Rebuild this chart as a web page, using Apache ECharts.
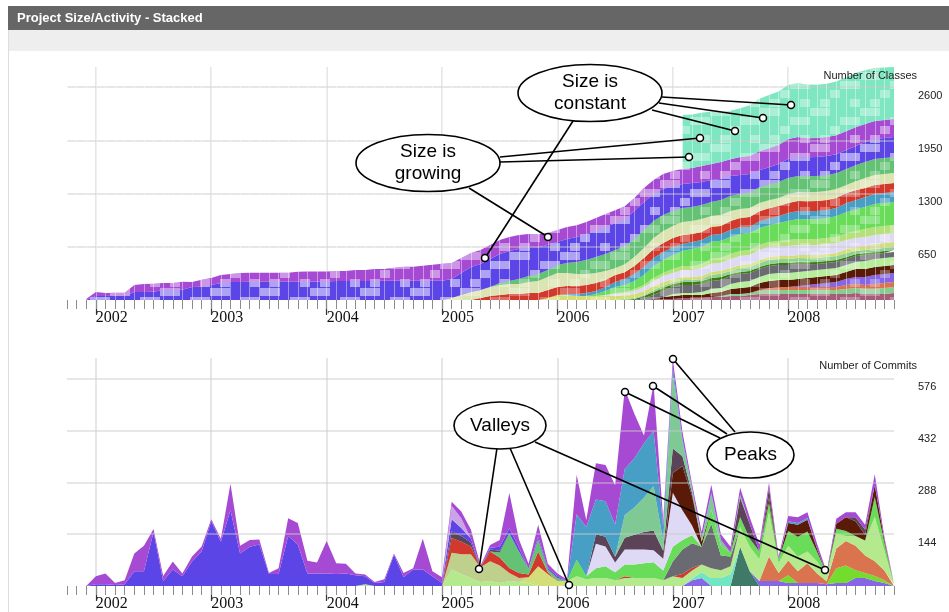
<!DOCTYPE html>
<html>
<head>
<meta charset="utf-8">
<script src="https://cdn.jsdelivr.net/npm/echarts@6/dist/echarts.min.js"></script>
<style>html,body{margin:0;padding:0;background:#fff}#chart{width:949px;height:612px}</style>
</head>
<body>
<div id="chart"></div>
<script>
// ---------- axis categories / tick labels ----------
const yearLabels = ['2002', '2003', '2004', '2005', '2006', '2007', '2008'];
const monthCategories = [];
for (let y = 2001; y <= 2008; y++) {
  for (let mo = 1; mo <= 12; mo++) {
    if (y === 2001 && mo < 10) continue;
    monthCategories.push(y + '-' + String(mo).padStart(2, '0'));
  }
}
const classTicks = [650, 1300, 1950, 2600];
const commitTicks = [144, 288, 432, 576];

// helper: run of zeros for months before a package existed
const z = n => new Array(n).fill(0);

// ---------- Number of Classes (Dec 2001 .. Dec 2008, monthly) ----------
const classesPurple = [12, 49,37,37,37, 85,98,98, 85,85,98, 61,85,85,98,98, 110,110,110,110,110,110, 122,122,122,122,122,122, 134,134, 146,146, 159, 171,171, 183,195,207,
  195,183,171,171,171,171,171,171,159,159, 146,146,146,146,146,159,159,159,159,159,
  171,171,183,183,183,183,195,195,207,207, 220,220,232,232,232,244,244,232,232,232, 232,232,232,220,220,220,220];
const classesBlue = [0, 49,49,52,52, 98,98,100, 122,122,125, 159,161, 183, 207, 220,220,222,222,222,224,224,224,226,226,226, 232,232,232,232,232,234,234,234,234,234,236,236,
  232,268,305,317,342,354,366,366,354,329, 305,281,293,305,317,317,329,329,329,342,
  342,329,317,305,293,293,281,268,256,244, 232,220,207,207,220,232,232,232,232,232, 232,232,232,244,244,244,244];
// packages that appear from Jan 2005 on (values Jan 2005 .. Dec 2008)
const classesCream = [0, 24,61,98,98,110,122,122,122,134,146, 159,171,159,146,134,122,110,85,98,110, 122,134,146,146,159,159,159,134,134,122, 110,110,98,98,98,110,110,110,110,110, 110,98,110,122,122,122,122];
const classesRed = [0,0,0,0, 24,49,61,73,73,85,85, 98,98,98,98,98,98, 85,85,85, 98, 110,110,110,110,110, 98,98,98,98, 110,110, 122,122,122,122,122,122,122,122,122,122,122,122, 110,110,110,110];
const classesGreen = [...z(6), 24,37,61,73,85,85,98,122,146,171, 195,207,220,220,220,220,207,195,183,171, 171,171,171,183,183,183, 195,195,195,195,195,195,195,195,195,195,195,195,195,195,195,195];
const classesYellowGreen = [...z(11), 24,61,61, 49,49,49,49,49,49,49,49,49,49, 37,37,37,37,37,37,37,37,37,37,37,37,37,37,37,37,37,37, 49,49,49, 61,61,61];
const classesTeal = [...z(13), 12,24,37,37,49,61,73,85, 98,98,98,98, 85,85,85,85,85,85,85, 73, 85,85,85, 98,98,98,98,98,98, 110,110, 122,122,122,122];
const classesBrightGreen = [...z(16), 24,49,73,85,98,122,146,159,171,183, 207,207,207,207,207,207,207,207,207, 220, 232, 244,244,244,244, 256,256, 268,268, 281,281,281];
const classesLavender = [...z(17), 12,24,24,37,49,61,73,73,85,85, 98,98,98, 110,110,110, 122,122,122,122,122,122,122,122,122, 110,110,110,110,110,110];
const classesLime = [...z(18), 12,12,24,24,37,37, 49,49,49,49, 61,61,61,61,61,61,61,61, 73,73,73,73,73,73, 85,85, 98,98,98,98];
const classesMedGreen = [...z(19), 12,12,12, 24,24,24,24,24,24, 37,37,37, 49,49,49,49,49,49,49,49,49,49,49,49, 37,37,37,37,37];
const classesDarkGreen = [...z(20), 12, 24, 37,37,37,37,37,37,37,37, 24,24,24,24,24,24,24,24,24,24,24,24,24,24,24,24,24,24];
const classesGray = [...z(21), 24,49,73,85, 98,98,98,98,98,98,98,98,98,98,98,98,98, 85, 73,73,73,73,73,73, 61,61,61];
const classesLightGreen = [...z(24), 24,24,24, 37, 49,49, 61, 73,73,73, 85,85,85,85,85,85,85,85,85,85, 98,98,98,98];
const classesDarkBrown = [...z(22), 12, 24, 37,37,37,37, 49,49, 61, 73,73, 85,85,85,85,85,85,85,85,85,85, 98,98,98,98,98];
const classesViolet = [...z(37), 12,24,37,49,61,73,85,98, 110,110,110];
const classesOrange = [...z(33), 12,24, 37,37,37,37,37,37,37, 49,49,49, 61,61,61];
const classesBottomGreen = [...z(29), 12, 24,24,24, 37, 49,49,49,49,49,49,49,49, 61,61,61,61, 73,73];
const classesMaroon = [...z(23), 12,12, 24,24,24, 37,37, 49,49, 61, 73,73,73,73,73,73,73,73,73,73, 85, 73,73,73, 85];
// large package added in Feb 2007 (values Feb 2007 .. Dec 2008)
const classesMint = [660,655,650,640,610,590,595,620,640,650,655,660,660,655,650,650,655,660,662,655,648,640,635];

// ---------- Number of Commits ----------
// 2002-2004 part (Dec 2001 .. Dec 2004)
const commitsBlueEarly = [0,5,5,3,5,41,41,150,14,46, 27,68,96,180,123,210,90,109,115,33, 33,139,115,35,35,35,33,35,30,22, 8,11,87,25,46,46,27];
const commitsPurpleEarly = [0,22,30,5,11,49,71,8,14,22, 8,14,14,5,8,74,22,19,14,3, 16,49,60,35,30,90,30,27,5,5, 3,8,3,11,3,85,14];
const commitsLightGreenEarly = [0,0,0,0,0,0,0,0,0,0, 0,0,0,0,0,0,0,0,0,0, 0,0,0,0,0,0,0,0,0,5, 0,0,0,0,0,0,0];
// Jan 2005 .. Dec 2008
const commitsBlueLate = [8,33,22,11,0,5,11,14,11,0,8,5,5, ...z(35)];
const commitsPurpleLate = [16, 11,19,25,5,8,19,98,22,14,33, 11,8,5,109,19,101,101,109,221,123, 22,131,16,22,19,11,16,22,16,16, 19,19,19,14,8,14,16,16,14,5, 14,14,14,14,30,8,3];
const commitsLightGreenLate = [0, 46,33,22,11,14,8,14,11,8,0, 0,0,5,27,19,22,22,16,22,22, 22,22,16,27,22,22,22,27,22,22, 55,68,60,123,27,41,41,33,33,16, 41,14,27,41,123,55,5];
const commitsKhaki = [0, 46,55,66,41,55,49,22,11, ...z(39)];
const commitsRed = [0, 41,35,22,0,27,22,14,14,8,41,5, 0,0,0,0,0,0,0, 5, 0,0,0,0,0, 11,8, ...z(21)];
const commitsMauve = [0, 19,16,11,0,5,5, ...z(9), 27,27,16,33,41,49,55,22,68,27,8, 0,0,0,0, 55,41, 0, 27, ...z(8), 11,14, 0,0,0];
const commitsLightPurple = [0, 38, 27, ...z(45)];
const commitsGreen = [...z(6), 14,96,60,16,33,8,8, ...z(35)];
const commitsBrightGreen = [...z(14), 46,8,27,33,22,33,38,41,44,27, 41,27,22,0,41,27,11,27,22,22, 27,11,41,55,55,27,5,14,14,0, 0,55,22,0];
const commitsYellowGreen = [...z(9), 16,55,33,14,8, ...z(34)];
const commitsTeal = [...z(14), 126,137,96,98,90,128,137,150,153,41,19,8,3, 0, 5, ...z(7), 5,5,5, ...z(9)];
const commitsLavender = [...z(16), 68,55,27,41,41,38,33,33,150,82,27, ...z(21)];
const commitsMedGreen = [...z(19), 63,76,96,123,27,205,41,11,11,41,16,0,8, ...z(16)];
const commitsGray = [...z(24), 41,68,68,49,123,41,27, ...z(17)];
const commitsDarkBrown = [...z(24), 55,123,82,14, ...z(6), 14,0,22,33,33,8,0,14,38,41,16,33,8,0];
const commitsMint = [...z(26), 5,16,22,22,33, ...z(17)];
const commitsDarkTeal = [...z(31), 109,41, ...z(15)];
const commitsViolet = [...z(26), 16,22, ...z(5), 14,14,14,8,8,8,8,5,8,8,22,22,14,8,0];
const commitsOrange = [...z(34), 68,22,41,33,55,27,8,55,68,68,49,41,27,0];
const commitsLime = [...z(36), 22,0,0,0,0,41,49,22,14,14,8,0];

// ---------- alignment of the arrays to the month axis ----------
const lead = [null, null];                       // Oct, Nov 2001: no data
const pre2005 = arr => z(37).concat(arr);         // series that start in 2005
const full = (early, late) => early.concat(late);
const fromFeb2007 = arr => new Array(62).fill(null).concat(arr);

// ---------- colours ----------
const palette = {
  mint: '#7ee6c1', purple: '#a64ad4', blue: '#5b45e6', green: '#63c273', cream: '#dbe4b2',
  red: '#d2382b', teal: '#489fc6', brightGreen: '#69dc5a', lime: '#b6e07c', lavender: '#dedaf5',
  yellowGreen: '#d4de78', medGreen: '#8fd394', darkGreen: '#3f7a14', gray: '#6a6a72',
  lightGreen: '#b6ee9c', darkBrown: '#5a1a07', violet: '#8766e6', orange: '#d9744f',
  bottomGreen: '#86ce90', maroon: '#a65c78', khaki: '#bfcf8c', mauve: '#5b4358',
  lightPurple: '#caa4e6', darkTeal: '#3f7a68', cLime: '#74dc2c', cMint: '#72e6c3',
  cLightGreen: '#b4e98e', cMedGreen: '#7ec994'
};
// strength of the lighter "cell" texture per class band
const cellTint = { blue: 0.5, purple: 0.42, mint: 0.35 };

const classLayers = [
  ['maroon', classesMaroon], ['bottomGreen', classesBottomGreen], ['orange', classesOrange],
  ['violet', classesViolet], ['darkBrown', classesDarkBrown], ['lightGreen', classesLightGreen],
  ['gray', classesGray], ['darkGreen', classesDarkGreen], ['medGreen', classesMedGreen],
  ['yellowGreen', classesYellowGreen], ['lavender', classesLavender], ['lime', classesLime],
  ['brightGreen', classesBrightGreen], ['teal', classesTeal], ['red', classesRed],
  ['cream', classesCream], ['green', classesGreen]
].map(([k, a]) => [k, pre2005(a)]);
classLayers.push(['blue', classesBlue], ['purple', classesPurple], ['mint', fromFeb2007(classesMint)]);

const commitLayers = [
  ['darkTeal', pre2005(commitsDarkTeal)], ['violet', pre2005(commitsViolet)], ['cMint', pre2005(commitsMint)],
  ['cLime', pre2005(commitsLime)], ['orange', pre2005(commitsOrange)],
  ['cLightGreen', full(commitsLightGreenEarly, commitsLightGreenLate)],
  ['yellowGreen', pre2005(commitsYellowGreen)], ['khaki', pre2005(commitsKhaki)], ['red', pre2005(commitsRed)],
  ['green', pre2005(commitsGreen)], ['gray', pre2005(commitsGray)], ['brightGreen', pre2005(commitsBrightGreen)],
  ['lavender', pre2005(commitsLavender)], ['darkBrown', pre2005(commitsDarkBrown)], ['mauve', pre2005(commitsMauve)],
  ['cMedGreen', pre2005(commitsMedGreen)], ['teal', pre2005(commitsTeal)],
  ['blue', full(commitsBlueEarly, commitsBlueLate)], ['lightPurple', pre2005(commitsLightPurple)],
  ['purple', full(commitsPurpleEarly, commitsPurpleLate)]
];

// ---------- axes ----------
const isJan = i => i >= 3 && (i - 3) % 12 === 0;
function monthAxis(gridIndex, monthLines) {
  return {
    type: 'category', gridIndex, position: 'bottom', data: monthCategories, boundaryGap: false, z: 5,
    axisLine: { show: false },
    axisTick: { show: true, interval: 0, length: 9, lineStyle: { color: '#8c8c8c', width: 1 } },
    axisLabel: { show: false },
    splitLine: { show: monthLines, interval: 0, lineStyle: { color: 'rgba(255,255,255,0.42)', width: 1 } }
  };
}
function yearAxis(gridIndex) {
  return {
    type: 'category', gridIndex, position: 'bottom', data: monthCategories, boundaryGap: false,
    axisLine: { show: false },
    axisTick: { show: true, interval: isJan, length: 15, lineStyle: { color: '#333', width: 1.2 } },
    axisLabel: {
      show: true, interval: isJan, align: 'left', margin: 10, fontFamily: 'Liberation Serif',
      fontSize: 16, color: '#111', formatter: (v, i) => yearLabels[(i - 3) / 12] || ''
    },
    splitLine: { show: true, interval: isJan, lineStyle: { color: '#dedede', width: 1.5 } }
  };
}
function valueAxis(gridIndex, max, step, ticks) {
  return {
    type: 'value', gridIndex, position: 'right', min: 0, max, interval: step, z: 3,
    axisLine: { show: false }, axisTick: { show: false },
    splitLine: { show: true, showMinLine: false, showMaxLine: false,
      lineStyle: { color: 'rgba(200,200,200,0.6)', width: 1.5 } },
    axisLabel: {
      margin: 24, verticalAlign: 'top', padding: [3, 0, 0, 0], fontSize: 11, color: '#222',
      fontFamily: 'Liberation Sans', formatter: v => ticks.indexOf(v) >= 0 ? String(v) : ''
    }
  };
}

function cellDecal(alpha) {
  return {
    symbol: 'rect', symbolSize: 1, symbolKeepAspect: false, color: 'rgba(255,255,255,' + alpha + ')',
    dashArrayX: [[10, 10, 10, 20], [0, 10, 20, 20], [10, 30, 10, 0], [0, 30, 10, 10]],
    dashArrayY: [8, 1]
  };
}

function layerSeries(layers, axisIndex, stack, textured) {
  return layers.map(([key, arr]) => {
    const decal = textured ? cellDecal(cellTint[key] || 0.28) : null;
    return {
      type: 'line', name: key + '-' + stack, stack, xAxisIndex: axisIndex * 2, yAxisIndex: axisIndex,
      data: lead.concat(arr), symbol: 'none', showSymbol: false, silent: true,
      lineStyle: decal ? { width: 0, decal } : { width: 0 },
      itemStyle: decal ? { color: palette[key], decal } : { color: palette[key] },
      areaStyle: { color: palette[key], opacity: 1 }, emphasis: { disabled: true }, z: 2
    };
  });
}

// ---------- annotations ----------
const ink = { stroke: '#000', lineWidth: 1.6 };
function callout(cx, cy, rx, ry, text, fontSize) {
  return [
    { type: 'ellipse', z: 120, shape: { cx, cy, rx, ry }, style: { fill: '#fff', stroke: '#000', lineWidth: 1.6 } },
    { type: 'text', z: 121, x: cx, y: cy, style: { text, fill: '#000', font: fontSize + 'px "Liberation Sans"',
      align: 'center', verticalAlign: 'middle', lineHeight: 22 } }
  ];
}
function pointer(x1, y1, x2, y2) {
  return [
    { type: 'line', z: 110, shape: { x1, y1, x2, y2 }, style: ink },
    { type: 'circle', z: 111, shape: { cx: x2, cy: y2, r: 3.5 }, style: { fill: '#fff', stroke: '#000', lineWidth: 1.5 } }
  ];
}
const graphics = [
  { type: 'rect', z: 0, shape: { x: 8, y: 6, width: 941, height: 24 }, style: { fill: '#666' } },
  { type: 'rect', z: 0, shape: { x: 8, y: 30, width: 941, height: 21 }, style: { fill: '#eeeeee' } },
  { type: 'line', z: 0, shape: { x1: 8.5, y1: 30, x2: 8.5, y2: 612 }, style: { stroke: '#dddddd', lineWidth: 1 } },
  { type: 'text', z: 1, x: 17, y: 18, style: { text: 'Project Size/Activity - Stacked', fill: '#fff',
    font: 'bold 13px "Liberation Sans"', verticalAlign: 'middle' } },
  { type: 'text', z: 130, x: 917, y: 76, style: { text: 'Number of Classes', fill: '#222',
    font: '11px "Liberation Sans"', align: 'right', verticalAlign: 'middle' } },
  { type: 'text', z: 130, x: 917, y: 366, style: { text: 'Number of Commits', fill: '#222',
    font: '11px "Liberation Sans"', align: 'right', verticalAlign: 'middle' } },
  ...pointer(573, 121, 485, 258), ...pointer(652, 110, 735, 131), ...pointer(659, 103, 763, 118), ...pointer(662, 97, 791, 105),
  ...pointer(469, 188, 548, 237), ...pointer(500, 157, 700, 138), ...pointer(500, 162, 689, 157),
  ...pointer(497, 448, 479, 569), ...pointer(510, 448, 569, 585), ...pointer(535, 442, 825, 570),
  ...pointer(720, 438, 625, 392), ...pointer(727, 434, 653, 386), ...pointer(735, 432, 673, 359),
  ...callout(590, 93, 72, 28.5, 'Size is\nconstant', 19),
  ...callout(428, 163, 72, 28.5, 'Size is\ngrowing', 19),
  ...callout(500, 425.5, 46, 23.5, 'Valleys', 19),
  ...callout(750.5, 455, 43.5, 23, 'Peaks', 19)
];

const chart = echarts.init(document.getElementById('chart'), null, { renderer: 'canvas' });
chart.setOption({
  animation: false,
  backgroundColor: '#fff',
  grid: [
    { left: 67, right: 55, top: 67, height: 233 },
    { left: 67, right: 55, top: 358, height: 232 }
  ],
  xAxis: [monthAxis(0, true), yearAxis(0), monthAxis(1, false), yearAxis(1)],
  yAxis: [valueAxis(0, 2845, 650, classTicks), valueAxis(1, 633, 144, commitTicks)],
  series: [...layerSeries(classLayers, 0, 'classes', true), ...layerSeries(commitLayers, 1, 'commits', false)],
  graphic: graphics
});
</script>
</body>
</html>
